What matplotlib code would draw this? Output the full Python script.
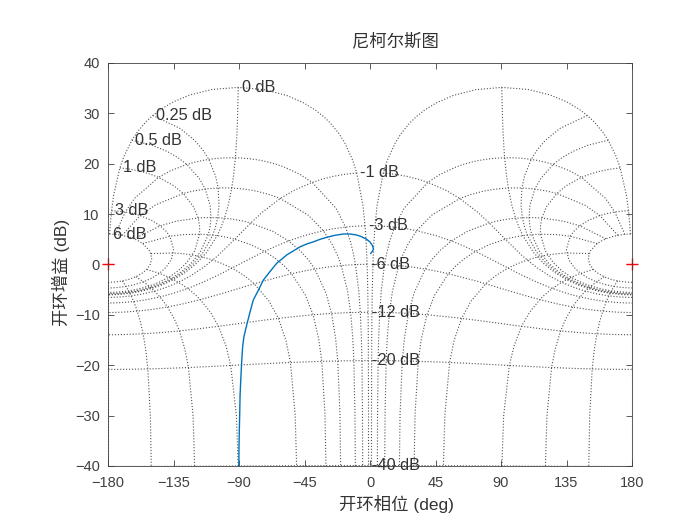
import numpy as np
import matplotlib.pyplot as plt

plt.rcParams['font.family'] = ['Liberation Sans', 'Noto Sans CJK SC', 'DejaVu Sans']

# open-loop response (phase in deg, gain in dB)
ol_phase = [0.5, 1.8, 2.3, 1.8, 0.0, -2.3, -5.7, -9.1, -13.7, -18.3, -24.0,
            -29.7, -34.3, -38.9, -43.5, -48.1, -57.2, -64.1, -68.7, -73.3,
            -76.7, -80.2, -82.4, -84.7, -86.6, -87.5, -88.1, -88.8, -89.3,
            -89.5, -89.8, -90.0, -90.2]
ol_gain = [2.2, 2.7, 3.1, 3.7, 4.47, 5.0, 5.5, 5.85, 6.05, 6.05, 5.8,
           5.4, 5.0, 4.5, 4.07, 3.5, 1.9, 0.24, -1.4, -3.1,
           -5.1, -7.05, -9.4, -12.0, -14.3, -16.3, -19.0, -22.9, -26.2,
           -29.5, -32.9, -36.2, -42.0]

# closed-loop gain (dB) and phase (deg) contours of the Nichols grid
cl_gains = [6, 3, 1, 0.5, 0.25, 0, -1, -3, -6, -12, -20, -40]
cl_phases = [1, 5, 10, 20, 30, 50, 90, 120, 150, 180]

# sample points along the contours
gain_pts = [6, 3, 2, 1, .75, .5, .4, .3, .25, .2, .15, .1, .05, 0, -.05, -.1, -.15,
            -.2, -.25, -.3, -.4, -.5, -.75, -1, -2, -3, -4, -5, -6, -9, -12, -16,
            -20, -30, -40, -50, -60]
phase_pts = [1, 2, 3, 4, 5, 7.5, 10, 15, 20, 25, 30, 45, 60, 75, 90, 105, 120,
             135, 150, 165, 175, 180]

phase_ticks = [-180, -135, -90, -45, 0, 45, 90, 135, 180]
gain_ticks = [-40, -30, -20, -10, 0, 10, 20, 30, 40]


def open_loop(g_db, p_deg):
    z = 10 ** (np.asarray(g_db) / 20) * np.exp(-1j * np.deg2rad(p_deg))
    h = z / (1 - z)
    gain = 20 * np.log10(np.abs(h))
    phase = np.remainder(np.rad2deg(np.angle(h)) + 360, 360) - 360
    return phase, gain


def main():
    fig = plt.figure(figsize=(7, 5.25), dpi=100)
    ax = fig.add_axes([0.1543, 0.1124, 0.7486, 0.7676])
    grid_kw = dict(ls=':', lw=0.8, color='#333333', alpha=0.85)
    txt = '#333333'

    for g in cl_gains:
        ph, ga = open_loop(np.full(len(phase_pts), g), np.array(phase_pts))
        ax.plot(ph, ga, **grid_kw)
        ax.plot(-ph, ga, **grid_kw)
        ax.annotate(f'{g:g} dB', (ph[0], ga[0]), xytext=(2.5, 0),
                    textcoords='offset points', ha='left', va='center',
                    fontsize=11.7, color=txt)

    for p in cl_phases:
        ph, ga = open_loop(np.array(gain_pts), np.full(len(gain_pts), p))
        ax.plot(ph, ga, **grid_kw)
        ax.plot(-ph, ga, **grid_kw)

    ax.plot(ol_phase, ol_gain, color='#0072BD', lw=1.0)
    ax.plot([-180, 180], [0, 0], '+', color='red', ms=9, mew=1.0, clip_on=False)

    ax.set_xlim(-180, 180)
    ax.set_ylim(-40, 40)
    ax.set_xticks(phase_ticks)
    ax.set_yticks(gain_ticks)
    ax.tick_params(direction='in', top=True, right=True, length=4,
                   labelsize=10.5, colors='#404040', width=0.6)
    ax.tick_params(axis='x', pad=7)
    ax.tick_params(axis='y', pad=6)
    for s in ax.spines.values():
        s.set_color('#404040')
        s.set_linewidth(0.6)

    ax.set_xlabel('开环相位 (deg)', fontsize=12.5, color=txt)
    ax.xaxis.set_label_coords(0.5496, -0.071)
    ax.set_ylabel('开环增益 (dB)', fontsize=12.5, color=txt)
    ax.yaxis.set_label_coords(-0.072, 0.48)
    ax.set_title('尼柯尔斯图', fontsize=12.5, color=txt, x=0.548, pad=12)

    fig.savefig('out.png')


if __name__ == '__main__':
    main()
